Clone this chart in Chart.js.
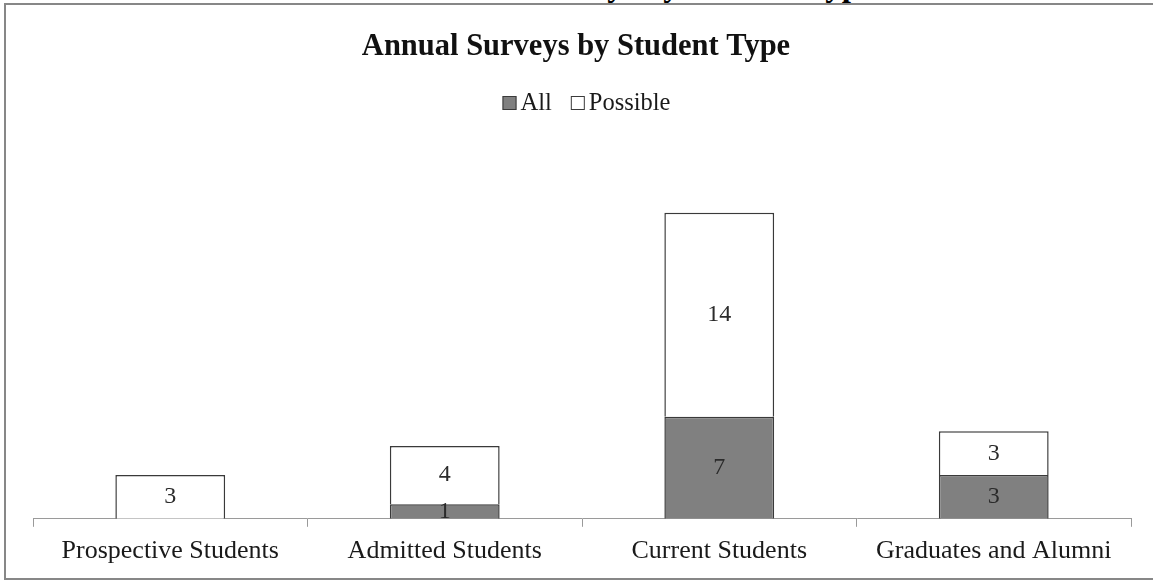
<!DOCTYPE html>
<html>
<head>
<meta charset="utf-8">
<script src="https://cdn.jsdelivr.net/npm/chart.js@4.4.1/dist/chart.umd.min.js"></script>
<style>
  html, body { margin: 0; padding: 0; background: #fff; overflow: hidden; }
  #wrap { position: relative; width: 1153px; height: 582px; overflow: hidden; }
  #frame {
    position: absolute; left: 4px; top: 3px; width: 1170px; height: 577px;
    border: 2px solid #878787; box-sizing: border-box;
  }
  #heading {
    position: absolute; left: 412px; top: -33px; line-height: 33px;
    font: bold 33px "Liberation Serif", serif; color: #000; white-space: nowrap;
  }
  canvas { position: absolute; left: 0; top: 0; }
</style>
</head>
<body>
<div id="wrap">
  <div id="heading">Annual Surveys by Student Type</div>
  <div id="frame"></div>
  <canvas id="chart" width="1153" height="582"></canvas>
</div>
<script>
// Survey counts per student group
const categories = ['Prospective Students', 'Admitted Students', 'Current Students', 'Graduates and Alumni'];
const allSurveys = [0, 1, 7, 3];
const possibleSurveys = [3, 4, 14, 3];
const seriesNames = ['All', 'Possible'];
const chartTitle = 'Annual Surveys by Student Type';

const SERIF = '"Liberation Serif", "Times New Roman", serif';

// Centered value labels inside each stacked segment
const segmentLabels = {
  id: 'segmentLabels',
  afterDatasetsDraw(chart) {
    const ctx = chart.ctx;
    ctx.save();
    ctx.font = '24px ' + SERIF;
    ctx.textAlign = 'center';
    ctx.textBaseline = 'middle';
    ctx.fillStyle = '#2b2b2b';
    chart.data.datasets.forEach((ds, di) => {
      const meta = chart.getDatasetMeta(di);
      meta.data.forEach((bar, i) => {
        const v = ds.data[i];
        if (!v) return;
        ctx.fillText(String(v), bar.x, (bar.y + bar.base) / 2);
      });
    });
    ctx.restore();
  }
};

// Title and compact legend row drawn in the top margin
const header = {
  id: 'header',
  afterDraw(chart) {
    const ctx = chart.ctx;
    const cx = 576;
    ctx.save();
    ctx.textAlign = 'center';
    ctx.textBaseline = 'middle';
    ctx.fillStyle = '#111';
    ctx.font = 'bold 30.5px ' + SERIF;
    ctx.fillText(chartTitle, cx, 47);

    const box = 14, gapText = 4, gapItem = 19, cy = 103;
    ctx.font = '24.5px ' + SERIF;
    const items = chart.data.datasets.map(ds => ({
      text: ds.label, fill: ds.backgroundColor, stroke: ds.borderColor,
      w: ctx.measureText(ds.label).width
    }));
    let total = 0;
    items.forEach((it, k) => { total += box + gapText + it.w + (k ? gapItem : 0); });
    let x = cx + 10.5 - total / 2;
    ctx.textAlign = 'left';
    items.forEach((it, k) => {
      if (k) x += gapItem;
      ctx.fillStyle = it.fill;
      ctx.fillRect(x, cy - box / 2, box, box);
      ctx.lineWidth = 1;
      ctx.strokeStyle = it.stroke;
      ctx.strokeRect(x + 0.5, cy - box / 2 + 0.5, box - 1, box - 1);
      x += box + gapText;
      ctx.fillStyle = '#1a1a1a';
      ctx.fillText(it.text, x, cy + 1);
      x += it.w;
    });
    ctx.restore();
  }
};

new Chart(document.getElementById('chart'), {
  type: 'bar',
  data: {
    labels: categories,
    datasets: [
      {
        label: seriesNames[0], data: allSurveys,
        backgroundColor: '#808080', borderColor: '#3a3a3a', borderWidth: 1.5,
        categoryPercentage: 1, barPercentage: 0.4
      },
      {
        label: seriesNames[1], data: possibleSurveys,
        backgroundColor: '#ffffff', borderColor: '#3a3a3a', borderWidth: 1.5,
        categoryPercentage: 1, barPercentage: 0.4
      }
    ]
  },
  options: {
    responsive: false,
    animation: false,
    devicePixelRatio: 1,
    layout: { padding: { top: 169, left: 33, right: 22, bottom: 6 } },
    plugins: {
      legend: { display: false },
      tooltip: { enabled: false },
      title: { display: false }
    },
    scales: {
      x: {
        stacked: true,
        grid: {
          display: true, drawOnChartArea: false, offset: true,
          tickLength: 8, color: '#9a9a9a', lineWidth: 1
        },
        border: { display: true, color: '#9a9a9a', width: 1 },
        ticks: { color: '#1a1a1a', padding: 9, font: { family: SERIF, size: 26 } }
      },
      y: {
        stacked: true, display: false, min: 0, max: 24
      }
    }
  },
  plugins: [segmentLabels, header]
});
</script>
</body>
</html>
